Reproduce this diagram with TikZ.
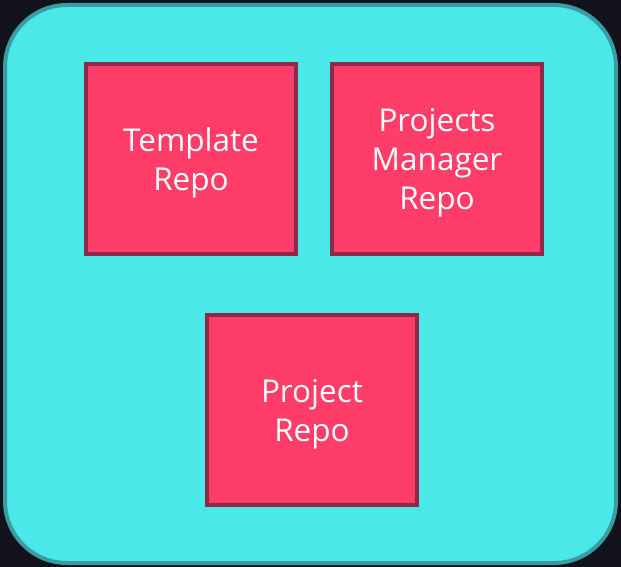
\documentclass[tikz,border=0pt]{standalone}
\usepackage{fontspec}
\setmainfont{Open Sans}
\usepackage{tikz}
\usetikzlibrary{positioning, calc}
\definecolor{nightBg}{RGB}{18, 18, 28}
\definecolor{poolCyan}{RGB}{75, 232, 234}
\definecolor{poolEdge}{RGB}{58, 156, 160}
\definecolor{repoRed}{RGB}{255, 61, 104}
\definecolor{repoEdge}{RGB}{139, 42, 74}
\tikzset{
  repobox/.style={
    rectangle,
    draw=repoEdge, fill=repoRed,
    line width=4pt,
    minimum width=210pt, minimum height=190pt,
    align=center, text=white, text depth=0pt,
    font=\fontsize{31.5}{39}\selectfont
  },
  pool/.style={
    draw=poolEdge, fill=poolCyan,
    line width=4pt, rounded corners=62pt
  }
}

\begin{document}
\begin{tikzpicture}[x=1pt, y=-1pt]

  % page and outer frame
  \fill[nightBg] (0,0) rectangle (621,567);
  \useasboundingbox (0,0) rectangle (621,567);
  \draw[pool] (5,5) rectangle (616,563);

  \node[repobox] (tmpl) at (191,159) {Template\\Repo};

  \node[repobox, right=32pt of tmpl] (mgr)
    {Projects\\Manager\\Repo};

  \node[repobox, xshift=-2pt,
        below=57pt of $(tmpl.south)!0.5!(mgr.south)$] (proj)
    {Project\\Repo};

\end{tikzpicture}
\end{document}
